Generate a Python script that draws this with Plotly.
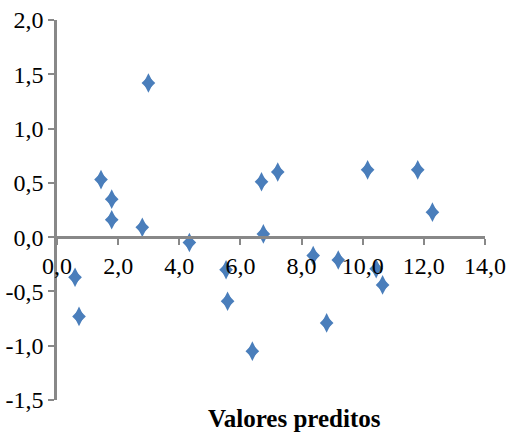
import plotly.graph_objects as go

x_pred = [2.99, 1.44, 1.79, 1.79, 2.79, 4.33, 0.59, 0.72, 5.53, 5.58, 6.39,
          6.69, 7.22, 6.75, 10.16, 11.80, 12.28, 8.38, 9.20, 10.44, 10.65, 8.82]
y_res = [1.42, 0.53, 0.35, 0.16, 0.09, -0.05, -0.37, -0.73, -0.30, -0.59, -1.05,
         0.51, 0.60, 0.03, 0.62, 0.62, 0.23, -0.17, -0.21, -0.29, -0.44, -0.79]

x_ticks = [0, 2, 4, 6, 8, 10, 12, 14]
x_labels = ["0,0", "2,0", "4,0", "6,0", "8,0", "10,0", "12,0", "14,0"]
y_ticks = [-1.5, -1.0, -0.5, 0.0, 0.5, 1.0, 1.5, 2.0]
y_labels = ["-1,5", "-1,0", "-0,5", "0,0", "0,5", "1,0", "1,5", "2,0"]
x_title = "Valores preditos"

font_family = "Liberation Serif, Times New Roman, serif"
axis_color = "#888888"
marker_color = "#4A7EBB"

fig = go.Figure()
# Excel-style concave diamond: a tall diamond with a wider one on top
fig.add_trace(go.Scatter(
    x=x_pred, y=y_res, mode="markers",
    marker=dict(symbol="diamond-tall", size=14, color=marker_color,
                line=dict(width=0)),
    showlegend=False, hoverinfo="skip",
))
fig.add_trace(go.Scatter(
    x=x_pred, y=y_res, mode="markers",
    marker=dict(symbol="diamond", size=10.5, color=marker_color,
                line=dict(width=0)),
    showlegend=False,
))

y_min, y_max = -1.5, 2.0
fig.update_layout(
    width=516, height=434,
    margin=dict(l=57, r=31, t=20, b=34),
    paper_bgcolor="white", plot_bgcolor="white",
    font=dict(family=font_family, size=24, color="black"),
    xaxis=dict(
        range=[0, 14], tickvals=x_ticks, ticktext=x_labels,
        showgrid=False, zeroline=False, showline=True, automargin=False,
        linecolor=axis_color, linewidth=2.5, ticklabeloverflow="allow",
        ticks="outside", ticklen=6, tickwidth=2, tickcolor=axis_color,
        anchor="free", position=(0 - y_min) / (y_max - y_min),
        tickfont=dict(size=24, family=font_family),
    ),
    yaxis=dict(
        range=[y_min, y_max], tickvals=y_ticks, ticktext=y_labels,
        showgrid=False, zeroline=False, showline=True, automargin=False,
        linecolor=axis_color, linewidth=2.5, ticklabeloverflow="allow",
        ticks="outside", ticklen=6, tickwidth=2, tickcolor=axis_color,
        tickfont=dict(size=24, family=font_family),
    ),
    annotations=[dict(
        text="<b>" + x_title + "</b>", xref="paper", yref="paper",
        x=(294 - 57) / 428, y=-18 / 380, xanchor="center", yanchor="middle",
        showarrow=False, font=dict(size=25, family=font_family),
    )],
)

fig.write_html(
    "out.html",
    config={"displayModeBar": False},
    post_script="document.body.style.margin='0';document.body.style.overflow='hidden';",
)
